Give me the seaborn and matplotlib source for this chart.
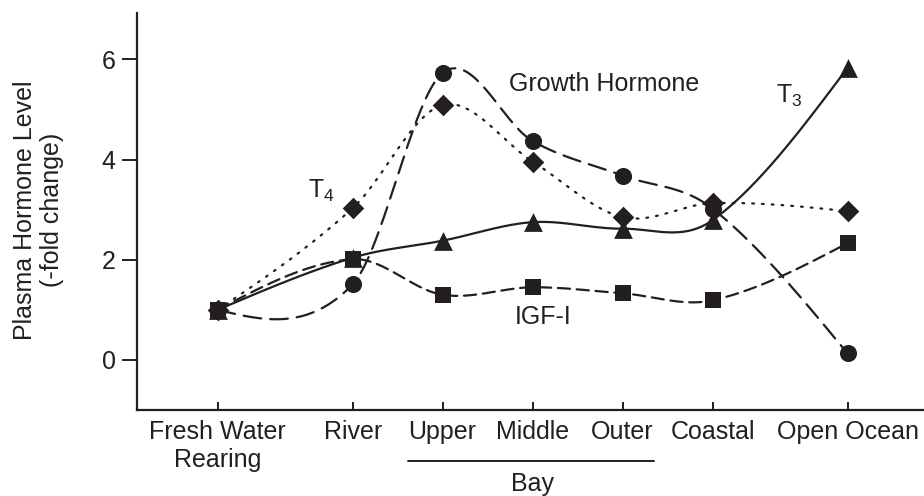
import numpy as np
import pandas as pd
import matplotlib
matplotlib.use("Agg")
import matplotlib.pyplot as plt
import matplotlib.transforms as mtransforms
import seaborn as sns

# ---- data ----
stages = ["Fresh Water\nRearing", "River", "Upper", "Middle", "Outer", "Coastal", "Open Ocean"]
stage_pos = [0, 1.5, 2.5, 3.5, 4.5, 5.5, 7]
growth_hormone = [1.0, 1.51, 5.73, 4.37, 3.68, 3.02, 0.13]
t4 = [1.0, 3.03, 5.09, 3.96, 2.85, 3.13, 2.97]
t3 = [1.0, 2.04, 2.38, 2.75, 2.62, 2.79, 5.83]
igf1 = [1.0, 2.01, 1.30, 1.45, 1.33, 1.19, 2.33]
yticks = [0, 2, 4, 6]

INK = "#231f20"

sns.set_style("ticks")
plt.rcParams["font.family"] = ["Liberation Sans", "DejaVu Sans"]
plt.rcParams["mathtext.fontset"] = "custom"
plt.rcParams["mathtext.rm"] = "Liberation Sans"
plt.rcParams["text.color"] = INK


def smooth_curve(x, y, n=500):
    """Cubic Hermite curve through the points (Catmull-Rom style tangents)."""
    x = np.asarray(x, float)
    y = np.asarray(y, float)
    m = len(x)
    sec = np.diff(y) / np.diff(x)
    tan = np.zeros(m)
    for i in range(1, m - 1):
        tan[i] = (y[i + 1] - y[i - 1]) / (x[i + 1] - x[i - 1])
    tan[0] = (3 * sec[0] - tan[1]) / 2
    tan[-1] = (3 * sec[-1] - tan[-2]) / 2
    xs = np.linspace(x[0], x[-1], n)
    idx = np.clip(np.searchsorted(x, xs, side="right") - 1, 0, m - 2)
    h = x[idx + 1] - x[idx]
    t = (xs - x[idx]) / h
    h00 = 2 * t ** 3 - 3 * t ** 2 + 1
    h10 = t ** 3 - 2 * t ** 2 + t
    h01 = -2 * t ** 3 + 3 * t ** 2
    h11 = t ** 3 - t ** 2
    ys = h00 * y[idx] + h10 * h * tan[idx] + h01 * y[idx + 1] + h11 * h * tan[idx + 1]
    return xs, ys


fig = plt.figure(figsize=(9.24, 4.96), dpi=100)
ax = fig.add_axes([136.7 / 924, 86 / 496, 1 - 136.7 / 924, (410 - 13.3) / 496])

series = [
    (growth_hormone, "o", 12.3, (0, (8, 4))),
    (t4, "D", 11.0, (0, (0.8, 3.6))),
    (igf1, "s", 11.0, (0, (5.5, 3))),
    (t3, "^", 13.5, "-"),
]

for vals, mk, ms, ls in series:
    xs, ys = smooth_curve(stage_pos, vals)
    sns.lineplot(x=xs, y=ys, ax=ax, color=INK, lw=1.6, linestyle=ls,
                 sort=False, estimator=None)
    ax.lines[-1].set_dash_capstyle("round" if ls != "-" else "butt")

for vals, mk, ms, ls in series:
    sns.scatterplot(x=stage_pos, y=vals, ax=ax, marker=mk, s=ms ** 2,
                    color=INK, edgecolor=INK, linewidth=0, zorder=5)

ax.set_xlim(-0.9, 7.85)
ax.set_ylim(-1.0, 6.92)
ax.set_xticks(stage_pos)
ax.set_xticklabels(stages, fontsize=18, color=INK)
ax.set_yticks(yticks)
ax.set_yticklabels([str(v) for v in yticks], fontsize=18, color=INK)
ax.tick_params(axis="x", direction="in", length=6, width=1.4, pad=7, color=INK)
ax.tick_params(axis="y", direction="out", length=11, width=1.4, pad=4, color=INK)
sns.despine(ax=ax)
for s in ["left", "bottom"]:
    ax.spines[s].set_linewidth(1.6)
    ax.spines[s].set_color(INK)

ax.set_ylabel("Plasma Hormone Level\n(-fold change)", fontsize=18, color=INK,
              linespacing=1.15)
ax.yaxis.set_label_coords(-0.092, 0.504)
ax.set_xlabel("")

# series labels
ax.text(4.30, 5.51, "Growth Hormone", fontsize=18, ha="center", va="center")
ax.text(6.2, 5.28, r"T$_\mathregular{3}$", fontsize=18, ha="left", va="center")
ax.text(1.0, 3.38, r"T$_\mathregular{4}$", fontsize=18, ha="left", va="center")
ax.text(3.62, 0.85, "IGF-I", fontsize=18, ha="center", va="center")

# Bay grouping
trans = mtransforms.blended_transform_factory(ax.transData, ax.transAxes)
ax.plot([2.12, 4.85], [-0.128, -0.128], transform=trans, color=INK, lw=1.4,
        clip_on=False)
ax.text(3.5, -0.187, "Bay", transform=trans, fontsize=18, ha="center",
        va="center")

fig.savefig("out.png", dpi=100)
